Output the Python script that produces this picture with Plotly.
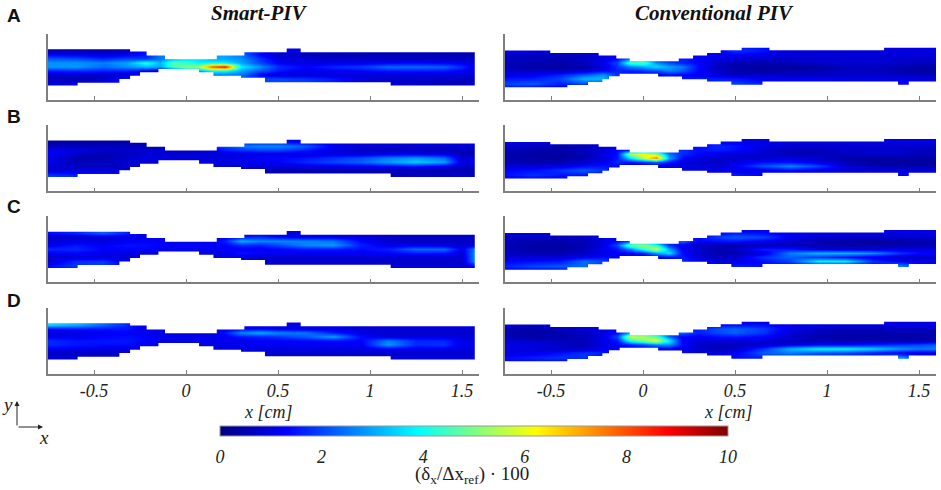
import plotly.graph_objects as go

W, H = 941, 490

X_GRID = [-0.75,-0.6,-0.45,-0.32,-0.22,-0.14,-0.07,0,0.07,0.14,0.21,0.3,0.4,0.5,0.65,0.8,0.95,1.1,1.25,1.4,1.5,1.58]
Y_GRID = [0.29,0.268,0.246,0.224,0.202,0.18,0.158,0.136,0.114,0.092,0.07]

TOP_X_SMART = [-0.75,-0.304,-0.214,-0.114,0.167,0.317,0.547,0.623,1.569]
TOP_Y_SMART = [.275,.263,.241,.221,.241,.259,.279,.259]
BOT_X_SMART = [-0.75,-0.589,-0.362,-0.304,-0.25,-0.15,0.071,0.149,0.299,0.429,1.112,1.569]
BOT_Y_SMART = [.078,.094,.114,.132,.15,.168,.15,.132,.121,.096,.078]
TOP_X_CONV = [-0.752,-0.504,-0.241,-0.145,-0.072,0.194,0.272,0.348,0.422,0.536,0.687,1.31,1.592]
TOP_Y_CONV = [.268,.255,.241,.225,.21,.225,.241,.255,.27,.284,.27,.284]
BOT_X_CONV = [-0.752,-0.411,-0.299,-0.221,-0.185,-0.127,0.082,0.212,0.348,0.48,0.649,1.386,1.444,1.592]
BOT_Y_CONV = [.069,.082,.098,.112,.129,.143,.127,.112,.1,.083,.1,.083,.1]

A_SMART = [
[.4,.4,.4,.4,.5,.5,.5,.5,.5,.5,.5,.8,1,1.2,1,1,1,1,1,1,1,1],
[.5,.5,.5,.7,1.5,2,2,2,2,2,2,2,1.5,1.2,1,1,.9,.9,.9,.8,.8,.8],
[1.3,1.2,1,1.2,1.5,2.5,3,3,3,3,3,2.5,1.3,.8,.6,.5,.5,.5,.5,.5,.5,.5],
[2.2,2.1,1.7,2,1.9,2.5,3,3.5,3.5,3,3,2.8,1.8,1,.9,.8,.8,.7,.7,.7,.7,.7],
[2.8,2.8,2.6,3,4.2,3.2,4.8,4.4,3.8,4,3.8,3,2,1.2,1,1,1.1,1.2,1.3,1.2,1.1,.9],
[2.8,2.9,2.4,2.8,3.2,3,4.5,5,5.5,8,8.8,3.8,2.8,1.8,1.3,1.7,1.9,2.4,2.4,2.3,1.7,1],
[1.6,1.7,1.6,1.6,1.2,.8,1.4,3,3,4,4,3,2.2,1.5,1.1,1.2,1.3,1.5,1.5,1.5,1.2,.9],
[.9,.8,.8,.8,1,1,1,1,1,2.5,2.5,2.5,1.2,.9,.9,.9,.9,.9,.9,.9,.9,.8],
[.6,.5,.7,1.5,1.5,1.5,1.5,1.5,1.5,1.5,1.5,2.2,2,2,1.8,1.5,1,.8,.8,.7,.7,.7],
[1.1,.9,1.5,1.5,1.5,1.5,1.5,1.5,1.5,1.5,1.5,1.5,2,2,2,1.6,1,.8,.7,.6,.6,.6],
[1.5,1.2,1.2,1.2,1.2,1.2,1.2,1.2,1.2,1.2,1.2,1.2,1.2,1.2,1.2,1.2,1,.9,.8,.6,.6,.6],
]
B_SMART = [
[.5,.5,.5,.5,.5,.5,.5,.5,.5,.5,.5,.5,.5,.5,.5,.5,.5,.5,.5,.5,.5,.5],
[.4,.4,.4,.5,.5,.5,.5,.5,.5,1.5,1.5,1.5,1.5,1.5,1.2,1,1,1,1,1,1,1],
[.6,.6,.6,.6,.6,.6,.6,.6,.6,1.8,2,2.5,2.7,2.7,2.2,1.2,.9,.9,.9,.9,.9,.9],
[1.2,1,.8,.8,.8,.8,.7,.7,.7,1,1.6,1.8,2,2,1.6,1,.7,.6,.6,.6,.6,.6],
[1.2,.8,.5,.7,.9,.9,.9,.9,.9,.9,1,1,1,1,1,1,1,1.2,1.2,1.1,.6,.6],
[1.1,.5,.5,.8,1,1,1,1,1,1,1,1.1,1.2,1.3,1.5,1.8,2.1,2.6,2.9,2.4,.8,1.1],
[1.1,.6,.6,.8,.9,.9,.9,.9,.9,.9,1,1.1,1.2,1.3,1.7,2,2.3,2.9,3.4,3,.9,1.2],
[.9,.7,.7,.7,.7,.9,.9,.9,.9,.9,.9,.9,.9,1,1,1.1,1.2,1.4,1.6,1.2,.8,.8],
[.9,.9,.9,.8,1,1,1,1,1,1,1,.7,.6,.5,.5,.5,.5,.5,.5,.5,.5,.5],
[1.8,1.6,1.8,1.4,1.4,1.4,1.4,1.4,1.4,1.4,1.4,.9,.6,.5,.5,.5,.6,.6,.7,.7,.7,.7],
[2.4,2,1.8,1.4,1.4,1.4,1.4,1.4,1.4,1.4,1.4,1,.8,.7,.7,.7,1.5,1.2,1.4,1.4,1.4,1.4],
]
C_SMART = [
[1.3,1.5,2.2,1.6,1,1,1,1,1,1,1,1,1,1,1,1,1,1,1,1,1,1],
[1.4,1.7,2.3,1.6,1,1,1,1,1,1,1,1,1,.9,.9,.9,.9,.9,.9,.9,.9,.9],
[.7,.7,.8,1,1,1,1,1,1,1,1.2,1.6,1.8,1.4,1.2,1.2,1,.7,.7,.7,.7,.7],
[.9,1.1,1,1.2,1.3,1.2,1.2,1.2,1.2,1.2,1.6,3.1,2.7,2.7,2.7,2.5,1.3,.8,.7,.7,.7,.7],
[1.1,1.5,1.2,1.5,1.4,1.3,1.2,1.2,1.2,1.2,1.3,1.7,1.6,2,2.7,2.9,1.6,1.1,1.1,1,.8,1],
[1.7,1.7,1.3,1.3,1.3,1.2,1.2,1.2,1.2,1.2,1.2,1.2,1.2,1.3,1.5,1.5,1.4,1.6,2.4,2.4,1.1,2.9],
[1.2,1.3,1.1,1,1,1,1,1,1,1,1.1,1.5,1.3,1.2,1.2,1.2,1.2,1.3,1.5,1.5,.9,3.1],
[.7,.9,.9,.9,1,1,1,1,1,1,1,.9,.8,.8,.8,.8,.8,.8,.8,.8,.8,3.1],
[.9,1.7,1.8,1,1,1,1,1,1,1,1,.8,.8,.8,.8,.8,.8,.8,.8,.8,.8,3.1],
[1.4,1.9,2,1.3,1,1,1,1,1,1,1,.9,.9,.9,.9,.9,.9,.9,.9,.9,.9,1.3],
[1.1,1.1,1.1,1.1,1,1,1,1,1,1,1,1,1,1,1,1,1,1,1,1,1,1],
]
D_SMART = [
[3.4,3,2.2,1.4,1,1,1,1,1,1,1,1,1,1.2,1,1,1,1,1,1,1,1],
[3.6,3.2,2.4,1.7,1,1,1,1,1,1,1,1,1,1.1,1,1,1,1,1,1,1,1],
[1.4,1.5,1.5,1.5,1,1,1,1,1,1,1,1.3,1.3,1.1,1,1,.9,.9,.9,.9,.9,.9],
[.9,1,1.2,1.3,1.1,1,1,1,1,1,1.5,2.7,3.1,2.7,2.5,1.6,1,.8,.8,.8,.8,.8],
[1.2,1.1,1.3,1.4,1.3,1.1,1.1,1.1,1.1,1.1,1.2,1.5,1.6,1.8,2.2,3,1.4,1,1,1,.9,.9],
[1.7,1.5,1.5,1.5,1.3,1.1,1.1,1.1,1.1,1.1,1.1,1.1,1.2,1.2,1.3,1.4,1.3,2.6,1.7,1.7,1.1,1],
[1.7,1.5,1.4,1.4,1.2,1,1,1,1,1,1.1,1.2,1.2,1.2,1.2,1.2,1.2,2.9,1.7,1.8,1.1,1],
[1.2,1.1,1,1,1,1,1,1,1,1,1,1,1,1,1,1,1,1.2,1.1,1.1,1,1],
[.7,.7,.7,.7,.9,1,1,1,1,1,1,.9,.8,.8,.8,.8,.8,.8,.8,.8,.8,.8],
[.9,.9,.9,.9,1,1,1,1,1,1,1,1,1,1,1,1,1,1,1,1,1,1],
[1,1,1,1,1,1,1,1,1,1,1,1,1,1,1,1,1,1,1,1,1,1],
]
A_CONV = [
[1,1,1,1,1,1,1,1,1,1,1,1,1,1.6,1.4,1,1,1,1,1,1,1],
[1.1,1,1,1.1,1,1,1,1,1,1,1,1,1.2,1.8,1.5,1,1,1,1,1,1,1.1],
[.7,.7,.6,.7,1.1,1.1,1.1,1.1,1.1,1.1,1.2,1.2,1.2,1.2,1,.9,.9,.9,.9,.9,.9,.9],
[.7,.6,.5,.7,1,1.4,2.4,2.4,1.6,1.6,1.6,1.3,1,.9,.8,.8,.8,.8,.8,.8,.8,.8],
[.6,.5,.5,.6,1.2,2,4.6,4.8,2.8,2,1.6,1.3,.8,.6,.5,.6,.8,.9,.9,.8,.7,.7],
[.6,.4,.3,.4,.9,1.8,2.6,3,3.6,3,2.6,1.4,.6,.4,.3,.3,.4,.6,.6,.5,.4,.4],
[.8,.7,.7,.9,1.3,1.6,1.6,1.8,2,2.6,2.2,1.3,.8,.5,.4,.5,.5,.7,.7,.5,.4,.4],
[1.1,1.2,1.6,2.2,2.8,1.8,1.2,1.2,1.2,1.4,1.3,1.2,.9,.7,.7,.7,.7,.7,.7,.7,.6,.6],
[1.5,1.6,2,3.2,3.2,2,1.2,1.2,1.2,1.2,1.5,1.6,1.6,1.5,1.2,1.2,1.2,1.1,1.1,1.1,1,1],
[2,2.2,1.6,2,2,1.5,1.2,1.2,1.2,1.2,1.2,1.3,1.6,2,1.6,1.2,1.2,1.2,1.2,1.4,1.2,1.2],
[1.4,1.3,1.2,1.2,1.2,1.2,1.2,1.2,1.2,1.2,1.2,1.2,1.2,1.2,1.2,1.2,1.2,1.2,1.2,1.2,1.2,1.2],
]
B_CONV = [
[1,1,1,1,1,1,1,1,1,1,1,1,1,1,1,1,1,1,1,1,1,1],
[1,1,1,1,1,1,1,1,1,1,1,1,1.2,1.1,1,1,1,1,1,1,1,1],
[.8,.6,.5,.6,.8,1,1,1,1,1,1.1,1.4,1.7,1.5,1,.8,.8,.8,.8,.8,.8,.8],
[.6,.5,.4,.6,1,1.3,1.5,1.5,1.8,1.6,1.8,1.4,1.6,1.4,.9,.6,.6,.8,.8,.8,.6,.6],
[.5,.4,.4,.6,1,1.4,5.4,6.2,5.2,2.5,1.7,1.3,1,.9,.8,.6,.6,.6,.8,.8,.6,.6],
[.5,.4,.3,.5,1,1.5,3.6,5.6,7.6,3,1.4,.9,.8,.8,.8,1,.8,.5,.4,.4,.4,.4],
[.6,.5,.5,.8,1.1,1.7,1.5,1.8,2.4,1.6,1,.9,.7,1,1.4,1.4,1,.5,.3,.3,.3,.3],
[.9,.9,1,1.4,1.5,1.3,1,1,1,1,.9,.9,.9,1.2,2.1,2.7,2,.9,.6,.5,.5,.5],
[1.3,1.4,1.8,2.2,1.8,1.3,1,1,1,1,1.2,1.2,1,1,1.1,1.4,1.1,.9,.9,.9,.9,.9],
[1.4,1.8,1.5,1.5,1.4,1.3,1,1,1,1,1.2,1.5,1.6,1.6,1.3,1.2,1.2,1.2,1.2,1.3,1.2,1.2],
[1.2,1.2,1.2,1.2,1.2,1.2,1.2,1.2,1.2,1.2,1.2,1.2,1.2,1.2,1.2,1.2,1.2,1.2,1.2,1.2,1.2,1.2],
]
C_CONV = [
[1,1,1,1,1,1,1,1,1,1,1,1,1,1,1,1,1,1,1,1,1,1],
[1.1,1,1,1,1,1,1,1,1,1,1,1.1,1.3,1.6,1.4,1.1,1,1,1,1,1,1],
[.7,.7,.6,.7,1,1,1,1,1,1,1.2,1.4,1.9,2.2,2,1.2,.9,.8,.8,.8,.8,.8],
[.6,.5,.5,.6,1,1.4,2,2.2,1.6,1.4,2.4,1.3,1.4,1.5,1.2,.8,.5,.4,.3,.4,.5,.5],
[.6,.4,.4,.5,1,2,5,5.5,4.2,1.8,1.1,.7,.5,.4,.5,.6,.5,.4,.4,.5,.5,.6],
[.6,.4,.4,.6,1.1,1.5,2.6,4.2,5.8,3,1.2,.8,.5,.7,1.6,1.5,1,.9,1,1,1,1],
[.7,.5,.5,.7,1,1.3,1.3,1.6,2.8,3.6,1.4,.8,.5,.5,1,2.6,3.2,3.2,2.8,1.8,1.4,1.3],
[.9,.9,.9,1.2,1.4,1.2,1.1,1.1,1.2,1.4,1.6,.9,.6,.8,1.8,2.3,1.8,1.4,1,.7,.7,.7],
[1.3,1.4,1.5,2.4,2,1.2,1,1,1,1,1.6,1.3,1,1,1.4,2,3.8,3.8,1.8,1.2,1.1,1.1],
[1.6,2,2.2,2.4,1.8,1.2,1,1,1,1,1.4,1.4,1.4,1.6,1.4,1.2,1.2,1.2,1.3,2.8,1.3,1.3],
[1.3,1.3,1.3,1.3,1.3,1.3,1.3,1.3,1.3,1.3,1.3,1.3,1.3,1.3,1.3,1.3,1.3,1.3,1.3,1.3,1.3,1.3],
]
D_CONV = [
[.9,.9,.9,.9,1,1,1,1,1,1,1,1,1,1,1,1,1,1,1,1,1,1],
[1,.8,1.2,1.4,1,1,1,1,1,1,1,1.1,1.3,1.4,1.4,1,1,1,1,1,1,1],
[.5,.4,.6,.8,1,1,1,1,1,1.4,1.5,1.6,2.1,2.3,1.9,1.1,.8,.6,.6,.7,.7,.7],
[.5,.4,.5,.7,1,1.4,2.8,3.2,2.2,1.8,2.4,1.6,2,2.3,1.8,.9,.6,.5,.5,.5,.5,.5],
[.6,.4,.5,.6,1,2,5.8,5.6,4.8,2.4,1.2,1.2,1.4,1.5,1.3,.8,.5,.4,.4,.4,.4,.4],
[.9,.8,.6,.6,1.1,1.5,4,5,6,3.8,1.3,.9,.9,.9,.9,.6,.5,.5,.5,.5,.5,.6],
[1.1,1,.8,.6,1,1.3,1.6,2,2.6,2.8,1.4,.8,.6,.6,.8,1.1,1.4,1.4,1.6,1.9,2,2.3],
[1,.9,.7,.7,1.1,1.1,1.1,1.1,1.1,1.1,1,.8,.6,.8,1.8,3.2,3.9,3.9,3.5,2.8,2.6,2.6],
[1,1.1,1.4,1.8,1.6,1.1,1,1,1,1,1.3,.9,.9,1.2,2.2,2.6,2.2,2,1.6,1.1,1,1],
[1.4,1.6,1.8,1.8,1.4,1.1,1,1,1,1,1.3,1.4,1.4,1.4,1.6,1.4,1.4,1.5,1.5,3,1.4,1.4],
[1.3,1.3,1.3,1.3,1.3,1.3,1.3,1.3,1.3,1.3,1.3,1.3,1.3,1.3,1.3,1.3,1.3,1.3,1.3,1.3,1.3,1.3],
]

TICK_VALS = [-0.5, 0, 0.5, 1, 1.5]
TICK_TEXT = ["-0.5", "0", "0.5", "1", "1.5"]
CBAR_TICKS = [0, 2, 4, 6, 8, 10]
COL_TITLES = ["Smart-PIV", "Conventional PIV"]
ROW_LABELS = ["A", "B", "C", "D"]

JET = [[0, "#000080"], [0.13, "#0000ff"], [0.39, "#00ffff"], [0.62, "#ffff00"], [0.88, "#ff0000"], [1, "#7f0000"]]
SERIF = "Liberation Serif"
AX = "#7f7f7f"

panels = [
    [A_SMART, A_CONV], [B_SMART, B_CONV], [C_SMART, C_CONV], [D_SMART, D_CONV],
]
walls = [
    (TOP_X_SMART, TOP_Y_SMART, BOT_X_SMART, BOT_Y_SMART),
    (TOP_X_CONV, TOP_Y_CONV, BOT_X_CONV, BOT_Y_CONV),
]
bottoms = [100, 191.3, 282.4, 374]
cols_px = [(48, 479), (505, 936)]
XR = [-0.75, 1.592]
YR = [0, 0.358]
PANEL_H = 66
CB_LEFT, CB_LEN, CB_TOP, CB_THICK = 220, 508, 425.5, 10


def steps(xs, ys):
    px, py = [], []
    for i, v in enumerate(ys):
        px += [xs[i], xs[i + 1]]
        py += [v, v]
    return px, py


def mask(top_x, top_y, bot_x, bot_y):
    tx, ty = steps(top_x, top_y)
    bx, by = steps(bot_x, bot_y)
    x_end = top_x[-1]
    mx = [XR[0]] + tx + [x_end, XR[0], None] + [XR[0]] + bx + [x_end, XR[0], None]
    my = [YR[1]] + ty + [YR[1], YR[1], None] + [YR[0]] + by + [YR[0], YR[0], None]
    mx += [x_end, XR[1], XR[1], x_end, x_end]
    my += [YR[0], YR[0], YR[1], YR[1], YR[0]]
    return mx, my


fig = go.Figure()
layout = dict(
    width=W, height=H, autosize=False, margin=dict(l=0, r=0, t=0, b=0),
    paper_bgcolor="white", plot_bgcolor="white", showlegend=False,
    coloraxis=dict(
        cmin=0, cmax=10, colorscale=JET,
        colorbar=dict(
            orientation="h", lenmode="pixels", len=CB_LEN, thickness=CB_THICK, thicknessmode="pixels",
            x=(CB_LEFT + CB_LEN / 2) / W, xanchor="center", y=1 - CB_TOP / H, yanchor="top", ypad=0, xpad=0,
            outlinecolor="#999999", outlinewidth=1, borderwidth=0,
            tickvals=CBAR_TICKS, ticks="outside", ticklen=5, tickcolor="rgba(0,0,0,0)",
            tickfont=dict(family=SERIF, size=18, color="#222222", style="italic"),
        ),
    ),
)

n = 0
for r, row in enumerate(panels):
    for c, z in enumerate(row):
        n += 1
        sx = "" if n == 1 else str(n)
        x_px = cols_px[c]
        grid_x = X_GRID[:-1] + [XR[1]] if c == 1 else X_GRID
        fig.add_trace(go.Heatmap(x=grid_x, y=Y_GRID[::-1], z=z[::-1], coloraxis="coloraxis", zsmooth="best",
                                 xaxis="x" + sx, yaxis="y" + sx, hoverinfo="skip"))
        mx, my = mask(*walls[c])
        fig.add_trace(go.Scatter(x=mx, y=my, mode="lines", line=dict(width=0, color="white"), fill="toself",
                                 fillcolor="white", xaxis="x" + sx, yaxis="y" + sx, hoverinfo="skip"))
        last = r == 3
        layout["xaxis" + sx] = dict(
            domain=[x_px[0] / W, x_px[1] / W], range=XR, anchor="y" + sx, showgrid=False, zeroline=False,
            showline=True, linecolor=AX, linewidth=1.5, ticks="inside", ticklen=4, tickcolor=AX, tickwidth=1,
            tickvals=TICK_VALS, ticktext=TICK_TEXT, showticklabels=last, ticklabelstandoff=0,
            tickfont=dict(family=SERIF, size=18, color="#222222", style="italic"),
        )
        layout["yaxis" + sx] = dict(
            domain=[1 - bottoms[r] / H, 1 - (bottoms[r] - PANEL_H) / H], range=YR, anchor="x" + sx,
            showgrid=False, zeroline=False, showline=True, linecolor=AX, linewidth=1.5, ticks="", showticklabels=False,
        )


def note(text, x, y, size=16, family=SERIF, style="italic", weight="normal", color="#222222"):
    return dict(text=text, x=x / W, y=1 - y / H, xref="paper", yref="paper", showarrow=False,
                xanchor="center", yanchor="middle",
                font=dict(family=family, size=size, color=color, style=style, weight=weight))


anns = [
    note(COL_TITLES[0], 259, 13, 21, weight="bold", color="#111111"),
    note(COL_TITLES[1], 714, 13, 21, weight="bold", color="#111111"),
    note("x [cm]", 268, 412, 18),
    note("x [cm]", 728, 412, 18),
    note("y", 7, 404, 19),
    note("x", 44, 437, 19),
    note("(δ<sub>x</sub>/Δx<sub>ref</sub>) · 100", 472, 475, 19, style="normal"),
]
for lab, yy in zip(ROW_LABELS, [16, 117, 207, 300]):
    anns.append(note(lab, 14, yy, 19, family="Liberation Sans", style="normal", weight="bold", color="#111111"))
for ax_, ay_, tx_, ty_ in [(17, 427, 17, 401), (17, 427, 43, 427)]:
    anns.append(dict(x=tx_ / W, y=1 - ty_ / H, ax=ax_ - tx_, ay=ay_ - ty_, xref="paper", yref="paper",
                     axref="pixel", ayref="pixel", text="", showarrow=True, arrowhead=2, arrowsize=1,
                     arrowwidth=1, arrowcolor="#222222"))
layout["annotations"] = anns
layout["shapes"] = [
    dict(type="line", xref="paper", yref="paper", layer="above",
         x0=(CB_LEFT + CB_LEN * t / 10) / W, x1=(CB_LEFT + CB_LEN * t / 10) / W,
         y0=1 - (CB_TOP + CB_THICK) / H, y1=1 - (CB_TOP + CB_THICK - 3) / H,
         line=dict(color="#333333", width=1))
    for t in CBAR_TICKS[1:-1]
]
fig.update_layout(**layout)
fig.write_html("out.html", config=dict(displayModeBar=False), post_script="document.body.style.margin='0';")
